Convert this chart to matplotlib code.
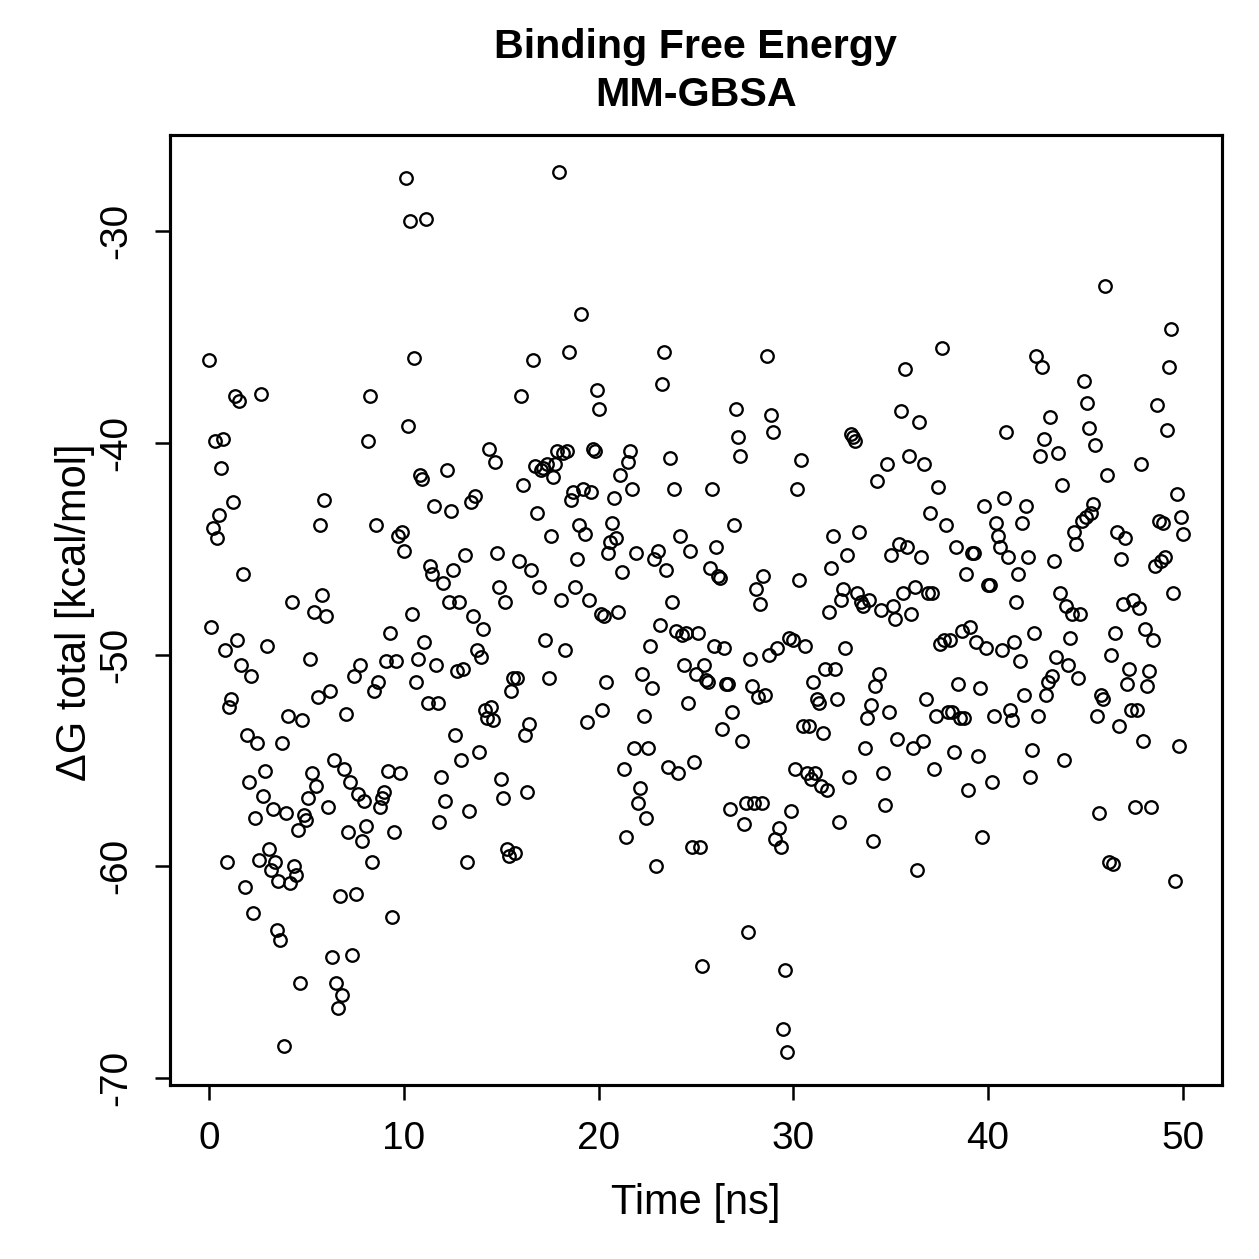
import numpy as np
import matplotlib
matplotlib.use("Agg")
import matplotlib.pyplot as plt

plt.rcParams['font.family'] = ['Liberation Sans', 'DejaVu Sans']

# MM-GBSA binding free energy per frame (kcal/mol), frames evenly spaced over 0-50 ns
dG = [
    -36.1, -48.7, -44.0, -39.9, -44.5, -43.4, -41.2, -39.8, -49.8, -59.8,
    -52.5, -52.1, -42.8, -37.8, -49.3, -38.0, -50.5, -46.2, -61.0, -53.8,
    -56.0, -51.0, -62.2, -57.7, -54.2, -59.7, -37.7, -56.7, -55.5, -49.6,
    -59.2, -60.2, -57.3, -59.8, -63.0, -60.7, -63.5, -54.2, -68.5, -57.5,
    -52.9, -60.8, -47.5, -60.0, -60.4, -58.3, -65.5, -53.1, -57.6, -57.8,
    -56.8, -50.2, -55.6, -48.0, -56.2, -52.0, -43.9, -47.2, -42.7, -48.2,
    -57.2, -51.7, -64.3, -55.0, -65.5, -66.7, -61.4, -66.1, -55.4, -52.8,
    -58.4, -56.0, -64.2, -51.0, -61.3, -56.6, -50.5, -58.8, -56.9, -58.1,
    -39.9, -37.8, -59.8, -51.7, -43.9, -51.3, -57.2, -56.8, -56.5, -50.3,
    -55.5, -49.0, -62.4, -58.4, -50.3, -44.4, -55.6, -44.2, -45.1, -27.5,
    -39.2, -29.5, -48.1, -36.0, -51.3, -50.2, -41.5, -41.7, -49.4, -29.4,
    -52.3, -45.8, -46.2, -43.0, -50.5, -52.3, -57.9, -55.8, -46.6, -56.9,
    -41.3, -47.5, -43.2, -46.0, -53.8, -50.8, -47.5, -55.0, -50.7, -45.3,
    -59.8, -57.4, -42.8, -48.2, -42.5, -49.8, -54.6, -50.1, -48.8, -52.6,
    -53.0, -40.3, -52.5, -53.1, -40.9, -45.2, -46.8, -55.9, -56.8, -47.5,
    -59.2, -59.5, -51.7, -51.1, -59.4, -51.1, -45.6, -37.8, -42.0, -53.8,
    -56.5, -53.3, -46.0, -36.1, -41.1, -43.3, -46.8, -41.3, -41.2, -49.3,
    -41.0, -51.1, -44.4, -41.6, -41.0, -40.4, -27.2, -47.4, -40.5, -49.8,
    -40.4, -35.7, -42.7, -42.3, -46.8, -45.5, -43.9, -33.9, -42.2, -44.3,
    -53.2, -47.4, -42.3, -40.3, -40.4, -37.5, -38.4, -48.1, -52.6, -48.2,
    -51.3, -45.2, -44.7, -43.8, -42.6, -44.5, -48.0, -41.5, -46.1, -55.4,
    -58.6, -40.9, -40.4, -42.2, -54.4, -45.2, -57.0, -56.3, -50.9, -52.9,
    -57.7, -54.4, -49.6, -51.6, -45.5, -60.0, -45.1, -48.6, -37.2, -35.7,
    -46.0, -55.3, -40.7, -47.5, -42.2, -48.9, -55.6, -44.4, -49.1, -50.5,
    -49.0, -52.3, -45.1, -59.1, -55.1, -50.9, -49.0, -59.1, -64.7, -50.5,
    -51.2, -51.3, -45.9, -42.2, -49.6, -44.9, -46.3, -46.4, -53.5, -49.7,
    -51.4, -51.4, -57.3, -52.7, -43.9, -38.4, -39.7, -40.6, -54.1, -58.0,
    -57.0, -63.1, -50.2, -51.5, -57.0, -46.9, -52.0, -47.6, -57.0, -46.3,
    -51.9, -35.9, -50.0, -38.7, -39.5, -58.7, -49.7, -58.2, -59.1, -67.7,
    -64.9, -68.8, -49.2, -57.4, -49.3, -55.4, -42.2, -46.5, -40.8, -53.4,
    -49.6, -55.6, -53.4, -55.9, -51.3, -55.6, -52.1, -52.3, -56.2, -53.7,
    -50.7, -56.4, -48.0, -45.9, -44.4, -50.7, -52.1, -57.9, -47.4, -46.9,
    -49.7, -45.3, -55.8, -39.6, -39.7, -39.9, -47.1, -44.2, -47.5, -47.7,
    -54.4, -53.0, -47.4, -52.4, -58.8, -51.5, -41.8, -50.9, -47.9, -55.6,
    -57.1, -41.0, -52.7, -45.3, -47.7, -48.3, -54.0, -44.8, -38.5, -47.1,
    -36.5, -44.9, -40.6, -48.1, -54.4, -46.8, -60.2, -39.0, -45.4, -54.1,
    -41.0, -52.1, -47.1, -43.3, -47.1, -55.4, -52.9, -42.1, -49.5, -35.5,
    -49.3, -43.9, -52.7, -49.3, -52.7, -54.6, -44.9, -51.4, -53.0, -48.9,
    -53.0, -46.2, -56.4, -48.7, -45.2, -45.2, -49.4, -54.8, -51.6, -58.6,
    -43.0, -49.7, -46.7, -46.7, -56.0, -52.9, -43.8, -44.4, -44.9, -49.8,
    -42.6, -39.5, -45.4, -52.6, -53.1, -49.4, -47.5, -46.2, -50.3, -43.8,
    -51.9, -43.0, -45.4, -55.8, -54.5, -49.0, -35.9, -52.9, -40.6, -36.4,
    -39.8, -51.9, -51.3, -38.8, -51.0, -45.6, -50.1, -40.5, -47.1, -42.0,
    -55.0, -47.7, -50.5, -49.2, -48.1, -44.2, -44.8, -51.1, -48.1, -43.7,
    -37.1, -43.5, -38.1, -39.3, -43.3, -42.9, -40.1, -52.9, -57.5, -51.9,
    -52.1, -32.6, -41.5, -59.8, -50.0, -59.9, -49.0, -44.2, -53.4, -45.5,
    -47.6, -44.5, -51.4, -50.7, -52.6, -47.4, -57.2, -52.6, -47.8, -41.0,
    -54.1, -48.8, -51.5, -50.8, -57.2, -49.3, -45.8, -38.2, -43.7, -45.6,
    -43.8, -45.4, -39.4, -36.4, -34.6, -47.1, -60.7, -42.4, -54.3, -43.5,
    -44.3,
]
t_start, t_end = 0.0, 50.0   # ns
time = np.linspace(t_start, t_end, len(dG))

xticks = [0, 10, 20, 30, 40, 50]
yticks = [-30, -40, -50, -60, -70]

fig = plt.figure(figsize=(1259 / 300, 1259 / 300), dpi=300)
ax = fig.add_axes([0.135, 0.138, 0.8355, 0.7545])

ax.plot(time, dG, 'o', mfc='none', mec='black', ms=3.0, mew=0.55)

ax.set_xlim(-2, 52)
ax.set_ylim(-70.35, -25.47)
ax.set_xticks(xticks)
ax.set_yticks(yticks)
ax.set_yticklabels([str(v) for v in yticks], rotation=90, va='center')
ax.tick_params(direction='out', length=3.6, width=0.6, labelsize=9.3, pad=5)

for s in ax.spines.values():
    s.set_linewidth(0.75)

# axis labels and title placed like R's base graphics
fig.text(0.5528, 1 - 1203 / 1259, 'Time [ns]', fontsize=10,
         ha='center', va='center')
fig.text(75 / 1259, 1 - 612 / 1259, 'ΔG total [kcal/mol]', fontsize=10,
         ha='center', va='center', rotation=90)
fig.text(0.5528, 1 - 47 / 1259, 'Binding Free Energy', fontsize=9.9,
         fontweight='bold', ha='center', va='center')
fig.text(0.5528, 1 - 95 / 1259, 'MM-GBSA', fontsize=9.9,
         fontweight='bold', ha='center', va='center')

fig.savefig('out.png', dpi=300)
